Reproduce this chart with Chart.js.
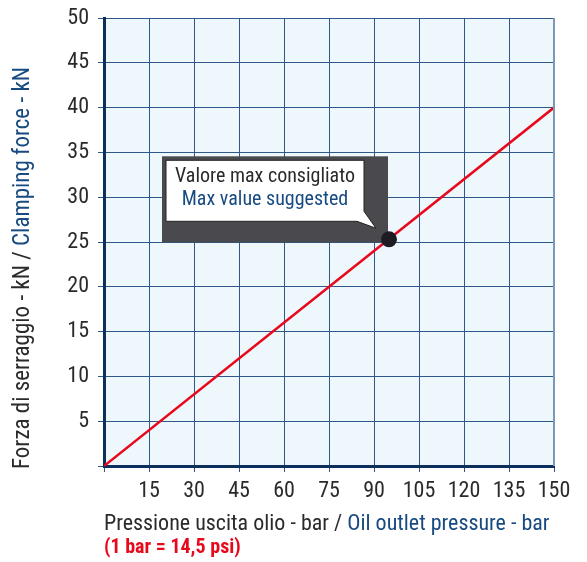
<!DOCTYPE html>
<html>
<head>
<meta charset="utf-8">
<script src="https://cdn.jsdelivr.net/npm/chart.js@4/dist/chart.umd.min.js"></script>
<style>
  html, body { margin: 0; padding: 0; background: #fff; }
</style>
</head>
<body>
<canvas id="grafica" width="587" height="562"></canvas>
<script>
// dati
const pressioneBar = [0, 150];
const forzaKN = [0, 40];
const puntoMax = { x: 95, y: 25.3 };
const xTicks = [0, 15, 30, 45, 60, 75, 90, 105, 120, 135, 150];
const yTicks = [0, 5, 10, 15, 20, 25, 30, 35, 40, 45, 50];
const testoNota = ["Valore max consigliato", "Max value suggested"];
const titoloY = ["Forza di serraggio - kN / ", "Clamping force - kN"];
const titoloX = ["Pressione uscita olio - bar / ", "Oil outlet pressure - bar"];
const notaPsi = "(1 bar = 14,5 psi)";

const FONT = "Roboto, 'Liberation Sans', sans-serif";
const NERO = "#2a2a2a";
const BLU = "#174a80";
const ROSSO = "#e8081c";
const GRIGLIA = "#2f5787";

function font(px, bold) {
  return (bold ? "bold " : "") + "condensed " + px + "px " + FONT;
}

const sfondoPlugin = {
  id: "sfondo",
  beforeDraw(chart) {
    const { ctx, chartArea: a } = chart;
    ctx.save();
    ctx.fillStyle = "#eef7fc";
    ctx.fillRect(a.left, a.top, a.right - a.left, a.bottom - a.top);
    ctx.restore();
  }
};

const testiPlugin = {
  id: "testi",
  afterDraw(chart) {
    const { ctx, chartArea: a, scales } = chart;
    ctx.save();

    // bordo destro più chiaro
    ctx.strokeStyle = "#7c98b8";
    ctx.lineWidth = 2;
    ctx.beginPath();
    ctx.moveTo(a.right, a.top);
    ctx.lineTo(a.right, a.bottom);
    ctx.stroke();

    // titolo asse Y (ruotato, due colori)
    ctx.font = font(23);
    ctx.textBaseline = "middle";
    const w1 = ctx.measureText(titoloY[0]).width;
    const w2 = ctx.measureText(titoloY[1]).width;
    ctx.translate(23, 268);
    ctx.rotate(-Math.PI / 2);
    const sx = -(w1 + w2) / 2;
    ctx.textAlign = "left";
    ctx.fillStyle = NERO;
    ctx.fillText(titoloY[0], sx, 0);
    ctx.fillStyle = BLU;
    ctx.fillText(titoloY[1], sx + w1, 0);
    ctx.setTransform(1, 0, 0, 1, 0, 0);

    // titolo asse X
    ctx.font = font(22);
    ctx.textAlign = "left";
    const xw1 = ctx.measureText(titoloX[0]).width;
    ctx.fillStyle = NERO;
    ctx.fillText(titoloX[0], 104, 524);
    ctx.fillStyle = BLU;
    ctx.fillText(titoloX[1], 104 + xw1, 524);

    ctx.font = font(20, true);
    ctx.fillStyle = ROSSO;
    ctx.fillText(notaPsi, 104, 548);

    // nota sul punto massimo
    const px = scales.x.getPixelForValue(puntoMax.x);
    const py = scales.y.getPixelForValue(puntoMax.y);
    ctx.fillStyle = "#4a4a4e";
    ctx.fillRect(px - 227, py - 83, 226, 86);

    ctx.beginPath();
    ctx.moveTo(px - 223, py - 79);
    ctx.lineTo(px - 25, py - 79);
    ctx.lineTo(px - 25, py - 28);
    ctx.lineTo(px - 13, py - 11);
    ctx.lineTo(px - 32, py - 18);
    ctx.lineTo(px - 223, py - 18);
    ctx.closePath();
    ctx.fillStyle = "#ffffff";
    ctx.fill();
    ctx.strokeStyle = "#222";
    ctx.lineWidth = 1;
    ctx.stroke();

    ctx.font = font(20);
    ctx.textAlign = "center";
    ctx.fillStyle = NERO;
    ctx.fillText(testoNota[0], px - 124, py - 62);
    ctx.fillStyle = BLU;
    ctx.fillText(testoNota[1], px - 124, py - 39);

    // punto sopra la nota
    ctx.beginPath();
    ctx.arc(px, py, 8, 0, Math.PI * 2);
    ctx.fillStyle = "#1c1c22";
    ctx.fill();

    ctx.restore();
  }
};

const ctx = document.getElementById("grafica").getContext("2d");
new Chart(ctx, {
  type: "scatter",
  data: {
    datasets: [{
      label: "Forza",
      data: pressioneBar.map((p, i) => ({ x: p, y: forzaKN[i] })),
      showLine: true,
      borderColor: ROSSO,
      borderWidth: 2.5,
      pointRadius: 0
    }]
  },
  options: {
    responsive: false,
    animation: false,
    devicePixelRatio: 1,
    layout: { padding: { top: 18, right: 33, left: 0, bottom: 0 } },
    plugins: {
      legend: { display: false },
      tooltip: { enabled: false }
    },
    scales: {
      x: {
        type: "linear",
        min: 0,
        max: 150,
        afterBuildTicks: (s) => { s.ticks = xTicks.map(v => ({ value: v })); },
        afterFit: (s) => { s.height = 96; s.paddingLeft = 0; s.paddingRight = 0; },
        border: { color: "#0d2f5c", width: 3 },
        grid: { color: GRIGLIA, lineWidth: 1, tickLength: 6 },
        ticks: {
          color: NERO,
          padding: 6,
          maxRotation: 0,
          font: { family: FONT, size: 22, weight: "condensed" },
          callback: (v) => v === 0 ? "" : v
        }
      },
      y: {
        type: "linear",
        min: 0,
        max: 50,
        afterBuildTicks: (s) => { s.ticks = yTicks.map(v => ({ value: v })); },
        afterFit: (s) => { s.width = 104; s.paddingTop = 0; s.paddingBottom = 0; },
        border: { color: "#0d2f5c", width: 3 },
        grid: { color: GRIGLIA, lineWidth: 1, tickLength: 6 },
        ticks: {
          color: NERO,
          padding: 9,
          font: { family: FONT, size: 22, weight: "condensed" },
          callback: (v) => v === 0 ? "" : v
        }
      }
    }
  },
  plugins: [sfondoPlugin, testiPlugin]
});
</script>
</body>
</html>
